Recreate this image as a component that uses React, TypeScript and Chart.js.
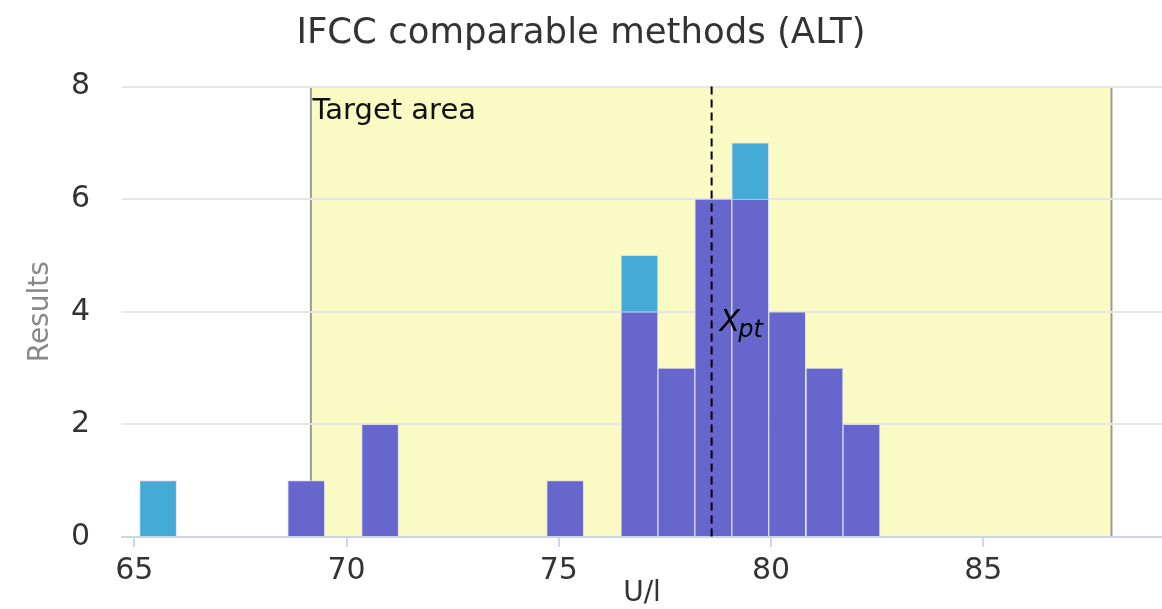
import { useEffect, useRef } from "react";
import { Chart, registerables } from "chart.js";

Chart.register(...registerables);

// Histogram bins (centre of each bin, U/l) and counts per bin
const binCenters = [65.56, 69.05, 70.79, 75.15, 76.9, 77.77, 78.64, 79.51, 80.38, 81.26, 82.13];
const mainCounts = [null, 1, 2, 1, 4, 3, 6, 6, 4, 3, 2];
const extraCounts = [1, null, null, null, 1, null, null, 1, null, null, null];

// Axis ticks
const xTicks = [65, 70, 75, 80, 85];
const yTicks = [0, 2, 4, 6, 8];
const xMin = 64.71;
const xMax = 89.21;
const yMax = 8;

// Target area limits and assigned value
const targetLow = 69.16;
const targetHigh = 88.02;
const xpt = 78.6;

const FONT = "DejaVu Sans";

const overlayPlugin = {
  id: "targetOverlay",
  beforeDraw(chart: any) {
    const { ctx, scales } = chart;
    const x = scales.x;
    const y = scales.y;
    const left = x.getPixelForValue(targetLow);
    const right = x.getPixelForValue(targetHigh);
    const top = y.getPixelForValue(yMax);
    const bottom = y.getPixelForValue(0);
    ctx.save();
    ctx.fillStyle = "rgb(250,250,196)";
    ctx.fillRect(left, top, right - left, bottom - top);
    ctx.strokeStyle = "#9a9a9a";
    ctx.lineWidth = 2;
    ctx.beginPath();
    ctx.moveTo(left, top);
    ctx.lineTo(left, bottom);
    ctx.moveTo(right, top);
    ctx.lineTo(right, bottom);
    ctx.stroke();
    ctx.fillStyle = "#111";
    ctx.font = `29px "${FONT}"`;
    ctx.textBaseline = "alphabetic";
    ctx.textAlign = "left";
    ctx.fillText("Target area", left + 1.5, top + 32);
    ctx.restore();
  },
  afterDatasetsDraw(chart: any) {
    const { ctx, scales } = chart;
    const x = scales.x;
    const y = scales.y;
    const px = x.getPixelForValue(xpt);
    const top = y.getPixelForValue(yMax);
    const bottom = y.getPixelForValue(0);
    ctx.save();
    ctx.strokeStyle = "#000";
    ctx.lineWidth = 2;
    ctx.setLineDash([8, 5]);
    ctx.beginPath();
    ctx.moveTo(px, top);
    ctx.lineTo(px, bottom);
    ctx.stroke();
    ctx.setLineDash([]);
    ctx.fillStyle = "#000";
    ctx.textAlign = "left";
    ctx.textBaseline = "alphabetic";
    const baseY = y.getPixelForValue(3.66);
    ctx.font = `italic 30px "${FONT}"`;
    ctx.fillText("X", px + 8, baseY);
    const w = ctx.measureText("X").width;
    ctx.font = `italic 24px "${FONT}"`;
    ctx.fillText("pt", px + 8 + w - 2, baseY + 6);
    ctx.restore();
  },
};

export default function App() {
  const ref = useRef<HTMLCanvasElement>(null);

  useEffect(() => {
    const barStyle = {
      borderColor: "rgba(215,215,245,0.8)",
      borderWidth: 1,
      barPercentage: 1,
      categoryPercentage: 1,
    };
    const chart = new Chart(ref.current as HTMLCanvasElement, {
      type: "bar",
      data: {
        datasets: [
          {
            label: "Results",
            data: binCenters.map((v, i) => ({ x: v, y: mainCounts[i] })) as any,
            backgroundColor: "#6666cc",
            ...barStyle,
          },
          {
            label: "Other",
            data: binCenters.map((v, i) => ({ x: v, y: extraCounts[i] })) as any,
            backgroundColor: "#44aad6",
            ...barStyle,
          },
        ],
      },
      options: {
        animation: false,
        responsive: false,
        layout: { padding: 0 },
        plugins: {
          legend: { display: false },
          tooltip: { enabled: false },
          title: {
            display: true,
            text: "IFCC comparable methods (ALT)",
            color: "#333",
            font: { family: FONT, size: 35.5, weight: "normal", lineHeight: 1 },
            padding: { top: 16, bottom: 35 },
          },
        },
        scales: {
          x: {
            type: "linear",
            stacked: true,
            offset: false,
            min: xMin,
            max: xMax,
            afterBuildTicks: (s: any) => {
              s.ticks = xTicks.map((v) => ({ value: v }));
            },
            afterFit: (s: any) => {
              s.height = 72;
            },
            grid: {
              offset: false,
              drawOnChartArea: false,
              drawTicks: true,
              tickLength: 10,
              color: "#ccd6eb",
              lineWidth: 2,
            },
            border: { color: "#ccd6eb", width: 2 },
            ticks: {
              color: "#333",
              font: { family: FONT, size: 30 },
              padding: 6,
              maxRotation: 0,
            },
            title: {
              display: true,
              text: "U/l",
              color: "#333",
              font: { family: FONT, size: 28, lineHeight: 1 },
              padding: { top: 0, bottom: 1 },
            },
          },
          y: {
            stacked: true,
            min: 0,
            max: yMax,
            afterBuildTicks: (s: any) => {
              s.ticks = yTicks.map((v) => ({ value: v }));
            },
            afterFit: (s: any) => {
              s.width = 122;
            },
            grid: { color: "#e6e6e6", lineWidth: 2, drawTicks: false },
            border: { display: false },
            ticks: {
              color: "#333",
              font: { family: FONT, size: 30 },
              padding: 32,
            },
            title: {
              display: true,
              text: "Results",
              color: "#888",
              font: { family: FONT, size: 28, lineHeight: 1 },
              padding: { top: 27, bottom: 0 },
            },
          },
        },
      },
      plugins: [overlayPlugin],
    });
    return () => chart.destroy();
  }, []);

  return (
    <div style={{ position: "fixed", left: 0, top: 0, width: 1162, height: 609, background: "#fff" }}>
      <canvas ref={ref} width={1162} height={609} style={{ display: "block", width: 1162, height: 609 }} />
    </div>
  );
}
